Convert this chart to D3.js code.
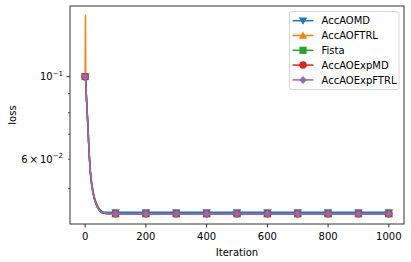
<!DOCTYPE html>
<html>
<head>
<meta charset="utf-8">
<script src="https://cdn.jsdelivr.net/npm/d3@7"></script>
<style>
  body { margin: 0; background: #fff; }
  text { font-family: "DejaVu Sans", sans-serif; fill: #000; }
</style>
</head>
<body>
<svg id="chart" width="411" height="262"></svg>
<script>
'use strict';

const iterations = [0, 1, 2, 3, 4, 6, 8, 10, 12, 14, 17, 20, 23, 26, 30, 35, 40, 45, 50, 55, 60, 70, 80, 90,
  100, 150, 200, 250, 300, 350, 400, 450, 500, 550, 600, 650, 700, 750, 800, 850, 900, 950, 1000];

const lossAccAOMD = [0.1, 0.1, 0.0965, 0.0925, 0.0885, 0.082, 0.0765, 0.0708, 0.0652, 0.0607, 0.0558, 0.0528,
  0.0508, 0.0491, 0.0476, 0.0462, 0.0451, 0.0443, 0.0438, 0.0435, 0.0433, 0.0432, 0.04318, 0.04318,
  0.04318, 0.04318, 0.04318, 0.04318, 0.04318, 0.04318, 0.04318, 0.04318, 0.04318, 0.04318, 0.04318, 0.04318, 0.04318,
  0.04318, 0.04318, 0.04318, 0.04318, 0.04318, 0.04318];
const lossAccAOFTRL = [0.1, 0.146, 0.0965, 0.0925, 0.0885, 0.082, 0.0765, 0.0705, 0.065, 0.0605, 0.0555, 0.0525,
  0.0505, 0.0488, 0.0472, 0.0458, 0.0447, 0.044, 0.0435, 0.0432, 0.043, 0.0429, 0.04285, 0.0428,
  0.0428, 0.0428, 0.0428, 0.0428, 0.0428, 0.0428, 0.0428, 0.0428, 0.0428, 0.0428, 0.0428, 0.0428, 0.0428,
  0.0428, 0.0428, 0.0428, 0.0428, 0.0428, 0.0428];
const lossFista = [0.1, 0.1, 0.0965, 0.0925, 0.0885, 0.082, 0.0765, 0.0705, 0.065, 0.0605, 0.0555, 0.0525,
  0.0505, 0.0488, 0.0472, 0.0458, 0.0447, 0.044, 0.0435, 0.0432, 0.043, 0.0429, 0.04285, 0.0428,
  0.0428, 0.0428, 0.0428, 0.0428, 0.0428, 0.0428, 0.0428, 0.0428, 0.0428, 0.0428, 0.0428, 0.0428, 0.0428,
  0.0428, 0.0428, 0.0428, 0.0428, 0.0428, 0.0428];
const lossAccAOExpMD = [0.1, 0.1, 0.0963, 0.0922, 0.0882, 0.0817, 0.0762, 0.0702, 0.0647, 0.0602, 0.0552, 0.0522,
  0.0502, 0.0486, 0.047, 0.0456, 0.0446, 0.0439, 0.0434, 0.0431, 0.043, 0.0429, 0.04283, 0.0428,
  0.0428, 0.0428, 0.0428, 0.0428, 0.0428, 0.0428, 0.0428, 0.0428, 0.0428, 0.0428, 0.0428, 0.0428, 0.0428,
  0.0428, 0.0428, 0.0428, 0.0428, 0.0428, 0.0428];
const lossAccAOExpFTRL = [0.1, 0.1, 0.0963, 0.0922, 0.0882, 0.0817, 0.0762, 0.0702, 0.0647, 0.0602, 0.0552, 0.0522,
  0.0502, 0.0486, 0.047, 0.0456, 0.0446, 0.0439, 0.0434, 0.0431, 0.043, 0.0429, 0.04283, 0.0428,
  0.0428, 0.0428, 0.0428, 0.0428, 0.0428, 0.0428, 0.0428, 0.0428, 0.0428, 0.0428, 0.0428, 0.0428, 0.0428,
  0.0428, 0.0428, 0.0428, 0.0428, 0.0428, 0.0428];

const seriesNames = ['AccAOMD', 'AccAOFTRL', 'Fista', 'AccAOExpMD', 'AccAOExpFTRL'];
const seriesLoss = [lossAccAOMD, lossAccAOFTRL, lossFista, lossAccAOExpMD, lossAccAOExpFTRL];
const seriesColors = ['#1f77b4', '#ff7f0e', '#2ca02c', '#d62728', '#9467bd'];
const seriesMarkers = ['triDown', 'triUp', 'square', 'circle', 'diamond'];

const xTicks = [0, 200, 400, 600, 800, 1000];
const yTicksMajor = [0.1];
const yTicksMinor = [0.05, 0.06, 0.07, 0.08, 0.09];
const markEvery = 100;

// plot area
const pLeft = 70, pRight = 404, pTop = 6, pBottom = 224;
const svg = d3.select('#chart');

const x = d3.scaleLinear().domain([-50, 1050]).range([pLeft, pRight]);
const y = d3.scaleLog().domain([0.04018, 0.1548]).range([pBottom, pTop]);

// marker symbols
const markerPath = function (kind) {
  const s = 4.2;
  if (kind === 'triDown') return `M${-s},${-s * 0.75} L${s},${-s * 0.75} L0,${s * 0.95} Z`;
  if (kind === 'triUp') return `M${-s},${s * 0.75} L${s},${s * 0.75} L0,${-s * 0.95} Z`;
  if (kind === 'square') return `M${-3.6},${-3.6} h7.2 v7.2 h-7.2 Z`;
  if (kind === 'diamond') return `M0,${-4} L3.7,0 L0,4 L-3.7,0 Z`;
  return d3.symbol(d3.symbolCircle, 44)();
};

svg.append('clipPath').attr('id', 'clip')
  .append('rect').attr('x', pLeft).attr('y', pTop).attr('width', pRight - pLeft).attr('height', pBottom - pTop);

const line = d3.line()
  .x((d) => x(d[0]))
  .y((d) => y(d[1]));

const plot = svg.append('g').attr('clip-path', 'url(#clip)');
seriesNames.forEach((name, i) => {
  const pts = iterations.map((it, j) => [it, seriesLoss[i][j]]);
  const g = plot.append('g').attr('class', 'series');
  g.append('path')
    .attr('d', line(pts))
    .attr('fill', 'none')
    .attr('stroke', seriesColors[i])
    .attr('stroke-width', 1.5)
    .attr('stroke-linejoin', 'round');
  g.selectAll('path.mark')
    .data(pts.filter((d) => d[0] % markEvery === 0))
    .join('path')
    .attr('class', 'mark')
    .attr('transform', (d) => `translate(${x(d[0])},${y(d[1])})`)
    .attr('d', markerPath(seriesMarkers[i]))
    .attr('fill', seriesColors[i]);
});

// frame
svg.append('rect')
  .attr('x', pLeft).attr('y', pTop).attr('width', pRight - pLeft).attr('height', pBottom - pTop)
  .attr('fill', 'none').attr('stroke', '#000').attr('stroke-width', 0.8);

// x axis
const xg = svg.append('g');
xg.selectAll('line').data(xTicks).join('line')
  .attr('x1', (d) => x(d)).attr('x2', (d) => x(d))
  .attr('y1', pBottom).attr('y2', pBottom + 3.5)
  .attr('stroke', '#000').attr('stroke-width', 0.8);
xg.selectAll('text').data(xTicks).join('text')
  .attr('x', (d) => x(d)).attr('y', pBottom + 16)
  .attr('text-anchor', 'middle').attr('font-size', 10)
  .text((d) => d);
svg.append('text')
  .attr('x', (pLeft + pRight) / 2).attr('y', 256)
  .attr('text-anchor', 'middle').attr('font-size', 10)
  .text('Iteration');

// y axis
const yg = svg.append('g');
yg.selectAll('line.major').data(yTicksMajor).join('line').attr('class', 'major')
  .attr('x1', pLeft - 3.5).attr('x2', pLeft)
  .attr('y1', (d) => y(d)).attr('y2', (d) => y(d))
  .attr('stroke', '#000').attr('stroke-width', 0.8);
yg.selectAll('line.minor').data(yTicksMinor).join('line').attr('class', 'minor')
  .attr('x1', pLeft - 2).attr('x2', pLeft)
  .attr('y1', (d) => y(d)).attr('y2', (d) => y(d))
  .attr('stroke', '#000').attr('stroke-width', 0.6);

const yLabel = function (v, mant, exp) {
  const t = yg.append('text')
    .attr('x', pLeft - 7).attr('y', y(v) + 3.5)
    .attr('text-anchor', 'end').attr('font-size', 10);
  t.append('tspan').text(mant ? `${mant}\u2009\u00d7\u200910` : '10');
  t.append('tspan').attr('dy', -4.5).attr('font-size', 7).text(`\u2212${exp}`);
};
yLabel(0.1, null, 1);
yLabel(0.06, 6, 2);

svg.append('text')
  .attr('transform', `translate(16,${(pTop + pBottom) / 2}) rotate(-90)`)
  .attr('text-anchor', 'middle').attr('font-size', 10)
  .text('loss');

// legend
const lg = svg.append('g').attr('transform', 'translate(289.5,11.5)');
lg.append('rect')
  .attr('width', 109.5).attr('height', 78).attr('rx', 2)
  .attr('fill', '#fff').attr('fill-opacity', 0.8)
  .attr('stroke', '#ccc').attr('stroke-width', 0.8);
seriesNames.forEach((name, i) => {
  const cy = 9.2 + i * 14.8;
  lg.append('line')
    .attr('x1', 3).attr('x2', 24).attr('y1', cy).attr('y2', cy)
    .attr('stroke', seriesColors[i]).attr('stroke-width', 1.5);
  lg.append('path')
    .attr('transform', `translate(13.5,${cy})`)
    .attr('d', markerPath(seriesMarkers[i]))
    .attr('fill', seriesColors[i]);
  lg.append('text')
    .attr('x', 32).attr('y', cy + 3.6)
    .attr('font-size', 10)
    .text(name);
});
</script>
</body>
</html>
